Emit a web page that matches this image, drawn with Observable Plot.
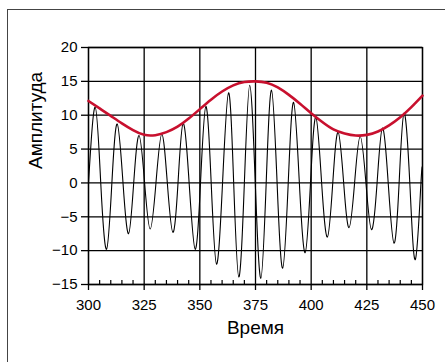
<!DOCTYPE html>
<html>
<head>
<meta charset="utf-8">
<script src="https://cdn.jsdelivr.net/npm/d3@7"></script>
<script src="https://cdn.jsdelivr.net/npm/@observablehq/plot@0.6"></script>
<style>
  html, body { margin: 0; padding: 0; background: #fff; overflow: hidden; width: 445px; height: 362px; }
  #border { position: absolute; left: 7px; top: 9px; width: 600px; height: 600px; border: 1px solid #444; box-sizing: border-box; }
  #chart { position: absolute; left: 0; top: 0; }
</style>
</head>
<body>
<div id="border"></div>
<div id="chart"></div>
<script>
// Axis ticks
const xTicks = [300, 325, 350, 375, 400, 425, 450];
const xMinorTicks = [305, 310, 315, 320, 330, 335, 340, 345, 355, 360, 365, 370, 380, 385, 390, 395, 405, 410, 415, 420, 430, 435, 440, 445];
const yTicks = [-15, -10, -5, 0, 5, 10, 15, 20];

// Black signal: local maxima, minima and zero crossings
const peakX = [303.0, 312.9, 322.7, 332.9, 342.5, 352.7, 362.9, 372.4, 382.2, 392.1, 402.1, 412.1, 422.0, 432.0, 441.7];
const peakY = [11.2, 8.7, 7.0, 7.2, 8.8, 11.3, 13.3, 14.4, 13.7, 11.9, 9.7, 7.5, 6.9, 8.1, 10.3];
const troughX = [308.1, 318.0, 327.7, 337.9, 347.9, 357.5, 367.5, 377.4, 387.2, 397.3, 407.3, 417.0, 427.1, 437.2, 446.8];
const troughY = [-9.8, -7.5, -6.8, -7.3, -9.8, -12.0, -13.9, -14.1, -12.6, -10.3, -8.0, -6.6, -6.9, -8.9, -11.3];
const zeroX = [300.0, 305.5, 310.5, 315.5, 320.3, 325.2, 330.3, 335.4, 340.2, 345.2, 350.3, 355.1, 360.2, 365.2, 370.0, 374.9, 379.8, 384.7, 389.7, 394.7, 399.7, 404.7, 409.7, 414.6, 419.5, 424.6, 429.6, 434.6, 439.5, 444.3, 449.3];
const endX = [450];
const endY = [1.6];

// Red envelope
const envX = [300, 305, 310, 315, 320, 325, 330, 335, 340, 345, 350, 355, 360, 365, 370, 375, 380, 385, 390, 395, 400, 405, 410, 415, 420, 425, 430, 435, 440, 445, 450];
const envY = [12.1, 11.0, 9.9, 8.8, 7.8, 7.1, 7.05, 7.5, 8.3, 9.5, 10.9, 12.3, 13.5, 14.4, 14.9, 15.0, 14.8, 14.1, 13.0, 11.7, 10.3, 9.0, 7.9, 7.3, 7.0, 7.1, 7.6, 8.5, 9.7, 11.2, 12.9];

const signal = [
  ...peakX.map((x, i) => ({x, y: peakY[i]})),
  ...troughX.map((x, i) => ({x, y: troughY[i]})),
  ...zeroX.map(x => ({x, y: 0})),
  ...endX.map((x, i) => ({x, y: endY[i]}))
].sort((a, b) => a.x - b.x);

const envelope = envX.map((x, i) => ({x, y: envY[i]}));

const fmt = d => d < 0 ? "\u2212" + Math.abs(d) : String(d);

const chart = Plot.plot({
  width: 445,
  height: 362,
  marginLeft: 88,
  marginRight: 23,
  marginTop: 47,
  marginBottom: 78,
  x: {domain: [300, 450]},
  y: {domain: [-15, 20]},
  style: {fontFamily: "'Liberation Sans', Arial, sans-serif", fontSize: "15px", color: "black", background: "transparent", overflow: "visible"},
  marks: [
    Plot.gridX(xTicks, {stroke: "black", strokeOpacity: 1, strokeWidth: 1.3}),
    Plot.gridY(yTicks, {stroke: "black", strokeOpacity: 1, strokeWidth: 1.3}),
    Plot.ruleX(xMinorTicks, {x: d => d, y1: -15, y2: -15, insetBottom: 4, stroke: "black", strokeWidth: 1.2}),
    Plot.axisX(xTicks, {tickSize: 6, tickPadding: 9, label: null, tickFormat: fmt, strokeWidth: 1.3}),
    Plot.axisY(yTicks, {tickSize: 7, tickPadding: 4, label: null, tickFormat: fmt, strokeWidth: 1.3}),
    Plot.frame({stroke: "black", strokeWidth: 1.3}),
    Plot.line(signal, {x: "x", y: "y", curve: "natural", stroke: "black", strokeWidth: 1.1}),
    Plot.line(envelope, {x: "x", y: "y", curve: "natural", stroke: "#c8102e", strokeWidth: 2.6}),
    Plot.text(["Время"], {text: d => d, frameAnchor: "bottom", lineAnchor: "bottom", dy: 49, fontSize: 19}),
    Plot.text(["Амплитуда"], {text: d => d, frameAnchor: "left", rotate: -90, lineAnchor: "bottom", dx: -47, dy: 3, fontSize: 19})
  ]
});
document.getElementById("chart").appendChild(chart);
</script>
</body>
</html>
